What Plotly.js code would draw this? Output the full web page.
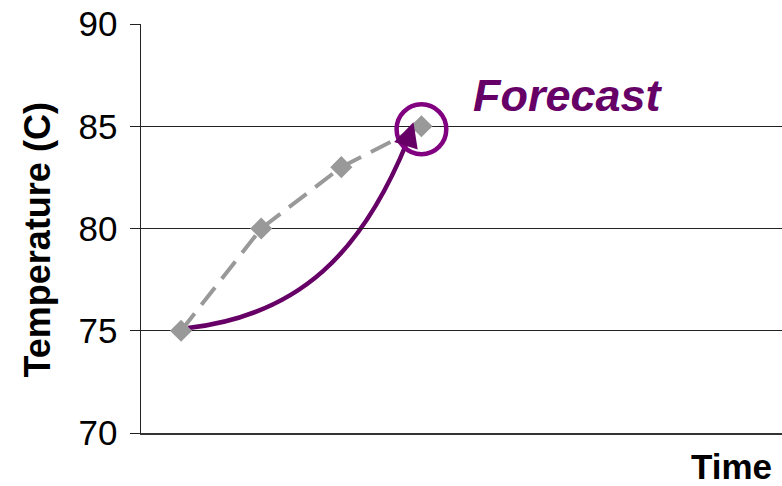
<!DOCTYPE html>
<html>
<head>
<meta charset="utf-8">
<script src="https://cdn.plot.ly/plotly-3.0.1.min.js"></script>
<style>
  html, body { margin: 0; padding: 0; background: #ffffff; }
  #chart { width: 782px; height: 486px; }
</style>
</head>
<body>
<div id="chart"></div>
<script>
// Measured temperatures at the first four time steps
var timeSteps = [0, 1, 2, 3];
var temperatures = [75, 80, 83, 85];

// Forecast curve as one cubic Bezier: start, two control points, end (time step, temperature)
var curveX = [0.087, 1.486, 2.260, 2.821];
var curveY = [75.13, 75.77, 78.85, 84.23];

// Arrow tip of the forecast curve and the circled forecast point
var arrowTip = {x: 2.90, y: 85.2};
var forecastPoint = {x: 3, y: 84.85};

var yTicks = [70, 75, 80, 85, 90];

var FONT = '"Liberation Sans", Arial, Helvetica, sans-serif';
var PURPLE = '#660066';

var curvePath = 'M ' + curveX[0] + ',' + curveY[0] +
  ' C ' + curveX[1] + ',' + curveY[1] + ' ' +
  curveX[2] + ',' + curveY[2] + ' ' +
  curveX[3] + ',' + curveY[3];

var measured = {
  x: timeSteps, y: temperatures,
  type: 'scatter', mode: 'lines+markers',
  line: {color: '#999999', width: 4, dash: '22px,11px'},
  marker: {symbol: 'diamond', size: 17, color: '#999999'},
  hoverinfo: 'skip'
};

var layout = {
  width: 782, height: 486,
  margin: {l: 141, r: 0, t: 24, b: 53},
  paper_bgcolor: '#ffffff', plot_bgcolor: '#ffffff',
  showlegend: false,
  font: {family: FONT, color: '#000000'},
  xaxis: {
    type: 'linear', range: [-0.5, 7.5],
    showgrid: false, zeroline: false,
    showline: true, linecolor: '#333333', linewidth: 1.5,
    ticks: '', showticklabels: false, fixedrange: true
  },
  yaxis: {
    range: [70, 90], tickvals: yTicks, ticktext: yTicks.map(String),
    showgrid: true, gridcolor: '#222222', gridwidth: 1,
    zeroline: false,
    showline: true, linecolor: '#222222', linewidth: 1.5,
    ticks: 'outside', ticklen: 10, tickcolor: '#222222', tickwidth: 1,
    ticklabelstandoff: 5,
    tickfont: {family: FONT, size: 35, color: '#000000'},
    automargin: false, fixedrange: true
  },
  shapes: [
    {
      type: 'path', xref: 'x', yref: 'y', layer: 'below',
      path: curvePath,
      line: {color: PURPLE, width: 4.5}
    },
    {
      type: 'circle', xref: 'x', yref: 'y',
      x0: forecastPoint.x - 0.31, x1: forecastPoint.x + 0.31,
      y0: forecastPoint.y - 1.22, y1: forecastPoint.y + 1.22,
      line: {color: '#800080', width: 4.5}
    }
  ],
  annotations: [
    {
      x: arrowTip.x, y: arrowTip.y, xref: 'x', yref: 'y',
      ax: curveX[3], ay: curveY[3], axref: 'x', ayref: 'y',
      text: '', showarrow: true, arrowhead: 2, arrowsize: 1.1, arrowwidth: 4.5,
      arrowcolor: PURPLE, standoff: 0
    },
    {
      x: 4.83, y: 86.5, xref: 'x', yref: 'y',
      text: '<b><i>Forecast</i></b>', showarrow: false,
      font: {family: FONT, size: 45, color: PURPLE},
      xanchor: 'center', yanchor: 'middle'
    },
    {
      // y-axis title
      x: -0.1622, y: 0.4707, xref: 'paper', yref: 'paper',
      xanchor: 'center', yanchor: 'middle', textangle: -90,
      text: '<b>Temperature (C)</b>', showarrow: false,
      font: {family: FONT, size: 36, color: '#000000'}
    },
    {
      // x-axis title
      x: 1, y: 0, xref: 'paper', yref: 'paper',
      xanchor: 'right', yanchor: 'top', xshift: -8, yshift: -12,
      text: '<b>Time</b>', showarrow: false,
      font: {family: FONT, size: 35, color: '#000000'}
    }
  ]
};

Plotly.newPlot('chart', [measured], layout, {staticPlot: true, displayModeBar: false});
</script>
</body>
</html>
